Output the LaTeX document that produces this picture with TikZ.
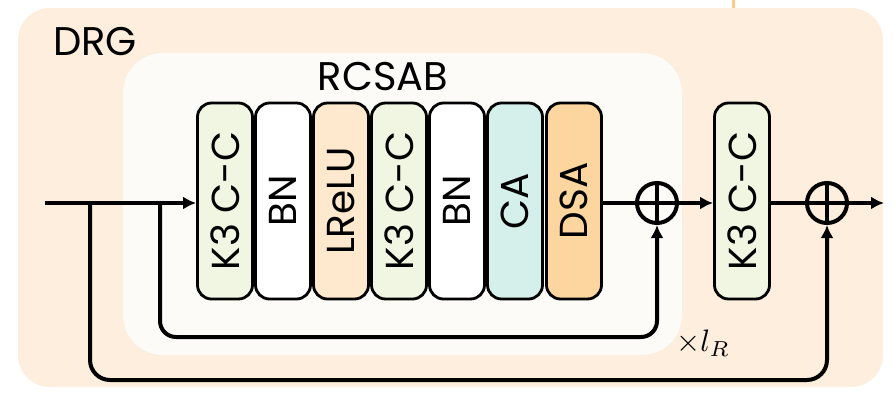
\documentclass[tikz,border=0pt]{standalone}
\usepackage{fontspec}
\setmainfont{Poppins}
\usetikzlibrary{
  arrows.meta,
  positioning
}
\definecolor{drgFill}{RGB}{253,238,221}
\definecolor{rcsabFill}{RGB}{253,251,247}
\definecolor{convFill}{RGB}{241,246,226}
\definecolor{reluFill}{RGB}{254,232,206}
\definecolor{caFill}{RGB}{213,239,234}
\definecolor{dsaFill}{RGB}{253,213,158}
\definecolor{edgeStroke}{RGB}{251,203,138}
\colorlet{ink}{black}
\tikzset{
  >={Latex[length=13pt,width=13pt]},
  arrow/.style={->, draw=ink, line width=4pt},
  connector/.style={draw=ink, line width=4pt},
  layer/.style={
    draw=ink,
    line width=2.8pt,
    rounded corners=14pt,
    minimum width=55pt,
    minimum height=196pt,
    inner sep=0pt,
    font=\fontsize{39}{41}\selectfont
  },
  adder/.style={
    circle,
    draw=ink,
    line width=4pt,
    minimum size=40pt,
    inner sep=0pt,
    path picture={
      \draw[line width=3.6pt]
        (path picture bounding box.north) -- (path picture bounding box.south)
        (path picture bounding box.west) -- (path picture bounding box.east);
    }
  },
  groupbox/.style={inner sep=0pt, draw=none},
  title/.style={font=\fontsize{40}{42}\selectfont, text=ink}
}

\begin{document}
\begin{tikzpicture}[x=1pt,y=-1pt]
  \useasboundingbox (0,0) rectangle (895,400);

  % group frames
  \draw[edgeStroke, line width=3pt] (733,0) -- (733,10);
  \node[groupbox, fill=drgFill, rounded corners=32pt, minimum width=865pt, minimum height=379pt] (drg) at (450.5,197.5) {};
  \node[groupbox, fill=rcsabFill, rounded corners=40pt, minimum width=559pt, minimum height=302pt] (rcsab) at (402.5,204) {};
  \node[title] (drglabel) at (95,42) {DRG};
  \node[title] (rcsablabel) at (383,77) {RCSAB};

  % residual block layers
  \node[layer, fill=convFill] (conva) at (225,201) {\rotatebox{90}{K3 C-C}};
  \node[layer, fill=white] (bna) at (283,201) {\rotatebox{90}{BN}};
  \node[layer, fill=reluFill] (relu) at (341,201) {\rotatebox{90}{LReLU}};
  \node[layer, fill=convFill] (convb) at (399,201) {\rotatebox{90}{K3 C-C}};
  \node[layer, fill=white] (bnb) at (457,201) {\rotatebox{90}{BN}};
  \node[layer, fill=caFill] (ca) at (515,201) {\rotatebox{90}{CA}};
  \node[layer, fill=dsaFill] (dsa) at (574,201) {\rotatebox{90}{DSA}};

  \node[adder] (adda) at (657,203) {};
  \node[layer, fill=convFill] (convc) at (742,201) {\rotatebox{90}{K3 C-C}};
  \node[adder] (addb) at (827,203) {};

  \node (repeat) at (703,343) {\scalebox{3.1}{$\times l_R$}};

  % main path
  \coordinate (input) at (45,203);
  \coordinate (output) at (884,203);
  \coordinate (splitout) at (90,203);
  \coordinate (splitin) at (160,203);
  \coordinate (lowin) at (400,337);
  \coordinate (lowout) at (400,380);

  \draw[arrow] (input) -- (conva.west |- input);
  \draw[connector] (dsa.east |- adda) -- (adda.west);
  \draw[arrow] (adda.east) -- (convc.west |- adda);
  \draw[connector] (convc.east |- addb) -- (addb.west);
  \draw[arrow] (addb.east) -- (output);

  % skip connections
  \draw[arrow, rounded corners=16pt] (splitin) -- (splitin |- lowin) -| (adda.south);
  \draw[arrow, rounded corners=20pt] (splitout) -- (splitout |- lowout) -| (addb.south);
\end{tikzpicture}
\end{document}
